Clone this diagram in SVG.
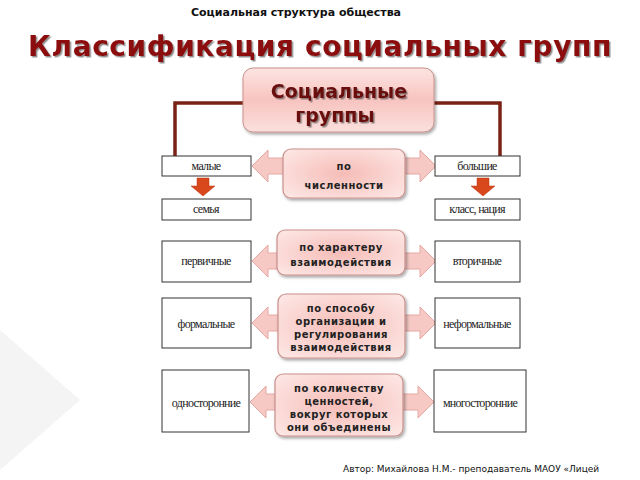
<svg xmlns="http://www.w3.org/2000/svg" width="640" height="480" viewBox="0 0 640 480">
<defs>
<linearGradient id="pg" x1="0" y1="0" x2="0" y2="1"><stop offset="0" stop-color="#fde4e2"/><stop offset="0.5" stop-color="#f7c4c0"/><stop offset="1" stop-color="#fbe0dd"/></linearGradient>
<radialGradient id="mg" cx="0.5" cy="0.5" r="0.7"><stop offset="0" stop-color="#f6bcb7"/><stop offset="1" stop-color="#fde9e7"/></radialGradient>
<filter id="sh" x="-10%" y="-10%" width="130%" height="140%"><feDropShadow dx="1.5" dy="2" stdDeviation="1.5" flood-color="#000" flood-opacity="0.35"/></filter>
<filter id="ts" x="-5%" y="-20%" width="110%" height="150%"><feDropShadow dx="1.5" dy="1.5" stdDeviation="0.6" flood-color="#444" flood-opacity="0.6"/></filter>
</defs>
<style>
.box{fill:#fff;stroke:#333;stroke-width:1}
.bt{font-family:"Liberation Serif",serif;font-size:12px;fill:#222;text-anchor:middle;letter-spacing:-0.7px}
.nd{fill:url(#mg);stroke:#c9908b;stroke-width:1.2;filter:url(#sh)}
.nt{font-family:"DejaVu Sans",sans-serif;font-weight:bold;font-size:10px;fill:#222;text-anchor:middle;letter-spacing:0.5px}
.dbl{fill:#f6c9c5;stroke:#e6a8a3;stroke-width:1}
.dn{fill:#d9471c;stroke:#b83a15;stroke-width:0.5}
.ln{fill:none;stroke:#7a2215;stroke-width:3.5}
.rt{font-family:"DejaVu Sans",sans-serif;font-weight:bold;font-size:19px;text-anchor:middle;fill:#6b0a0a;filter:url(#ts)}
</style>
<rect width="640" height="480" fill="#fff"/>
<path d="M0 330 L80 400 L0 470Z" fill="#f4f4f4"/>
<text x="296" y="16" font-family="DejaVu Sans,sans-serif" font-weight="bold" font-size="11" text-anchor="middle" fill="#111">Социальная структура общества</text>
<text x="320" y="56" font-family="DejaVu Sans,sans-serif" font-weight="bold" font-size="28" text-anchor="middle" fill="#8b0c0c" letter-spacing="0.6" filter="url(#ts)">Классификация социальных групп</text>
<g id="connectors">
<path class="ln" d="M244 103 H175 V157"/>
<path class="ln" d="M433 103 H500 V157"/>
<path class="dn" d="M197 178 H209 V186 H215 L203 196 L191 186 H197Z"/>
<path class="dn" d="M477 178 H489 V186 H495 L483 196 L471 186 H477Z"/>
<path class="dbl" d="M252 166 L268 150 V158 H420 V150 L436 166 L420 182 V174 H268 V182Z"/>
<path class="dbl" d="M252 261 L268 245 V253 H420 V245 L436 261 L420 277 V269 H268 V277Z"/>
<path class="dbl" d="M252 323 L268 307 V315 H420 V307 L436 323 L420 339 V331 H268 V339Z"/>
<path class="dbl" d="M250 402 L266 386 V394 H418 V386 L434 402 L418 418 V410 H266 V418Z"/>
</g>
<g id="root"><rect x="243" y="68" width="191" height="64" rx="10" fill="url(#pg)" stroke="#c9908b" filter="url(#sh)"/>
<text class="rt" x="339" y="98">Социальные</text>
<text class="rt" x="335" y="122">группы</text></g>
<g id="small"><rect class="box" x="162" y="156" width="89" height="20"/><text class="bt" x="206" y="170">малые</text></g>
<g id="big"><rect class="box" x="435" y="156" width="85" height="20"/><text class="bt" x="477" y="170">большие</text></g>
<g id="family"><rect class="box" x="162" y="199" width="89" height="21"/><text class="bt" x="206" y="213">семья</text></g>
<g id="class"><rect class="box" x="435" y="199" width="85" height="21"/><text class="bt" x="477" y="213">класс, нация</text></g>
<g id="n1"><rect class="nd" x="283" y="149" width="122" height="49" rx="8"/><text class="nt" font-size="12" x="344" y="170">по</text><text class="nt" font-size="12" x="344" y="189">численности</text></g>
<g id="prim"><rect class="box" x="162" y="241" width="89" height="41"/><text class="bt" x="206" y="265">первичные</text></g>
<g id="sec"><rect class="box" x="435" y="241" width="85" height="41"/><text class="bt" x="477" y="265">вторичные</text></g>
<g id="n2"><rect class="nd" x="277" y="230" width="128" height="45" rx="8"/><text class="nt" x="341" y="251">по характеру</text><text class="nt" x="341" y="266">взаимодействия</text></g>
<g id="form"><rect class="box" x="162" y="298" width="89" height="50"/><text class="bt" x="206" y="328">формальные</text></g>
<g id="inform"><rect class="box" x="435" y="298" width="85" height="50"/><text class="bt" x="477" y="328">неформальные</text></g>
<g id="n3"><rect class="nd" x="278" y="294" width="127" height="64" rx="8"/><text class="nt" x="341" y="312">по  способу</text><text class="nt" x="341" y="325">организации и</text><text class="nt" x="341" y="338">регулирования</text><text class="nt" x="341" y="351">взаимодействия</text></g>
<g id="one"><rect class="box" x="162" y="370" width="87" height="62"/><text class="bt" x="206" y="407">односторонние</text></g>
<g id="many"><rect class="box" x="434" y="370" width="92" height="62"/><text class="bt" x="480" y="407">многосторонние</text></g>
<g id="n4"><rect class="nd" x="275" y="374" width="128" height="62" rx="8"/><text class="nt" x="339" y="392">по количеству</text><text class="nt" x="339" y="405">ценностей,</text><text class="nt" x="339" y="418">вокруг которых</text><text class="nt" x="339" y="431">они объединены</text></g>
<text x="343" y="472" font-family="DejaVu Sans,sans-serif" font-size="9" fill="#111">Автор: Михайлова Н.М.- преподаватель МАОУ «Лицей</text>
</svg>
